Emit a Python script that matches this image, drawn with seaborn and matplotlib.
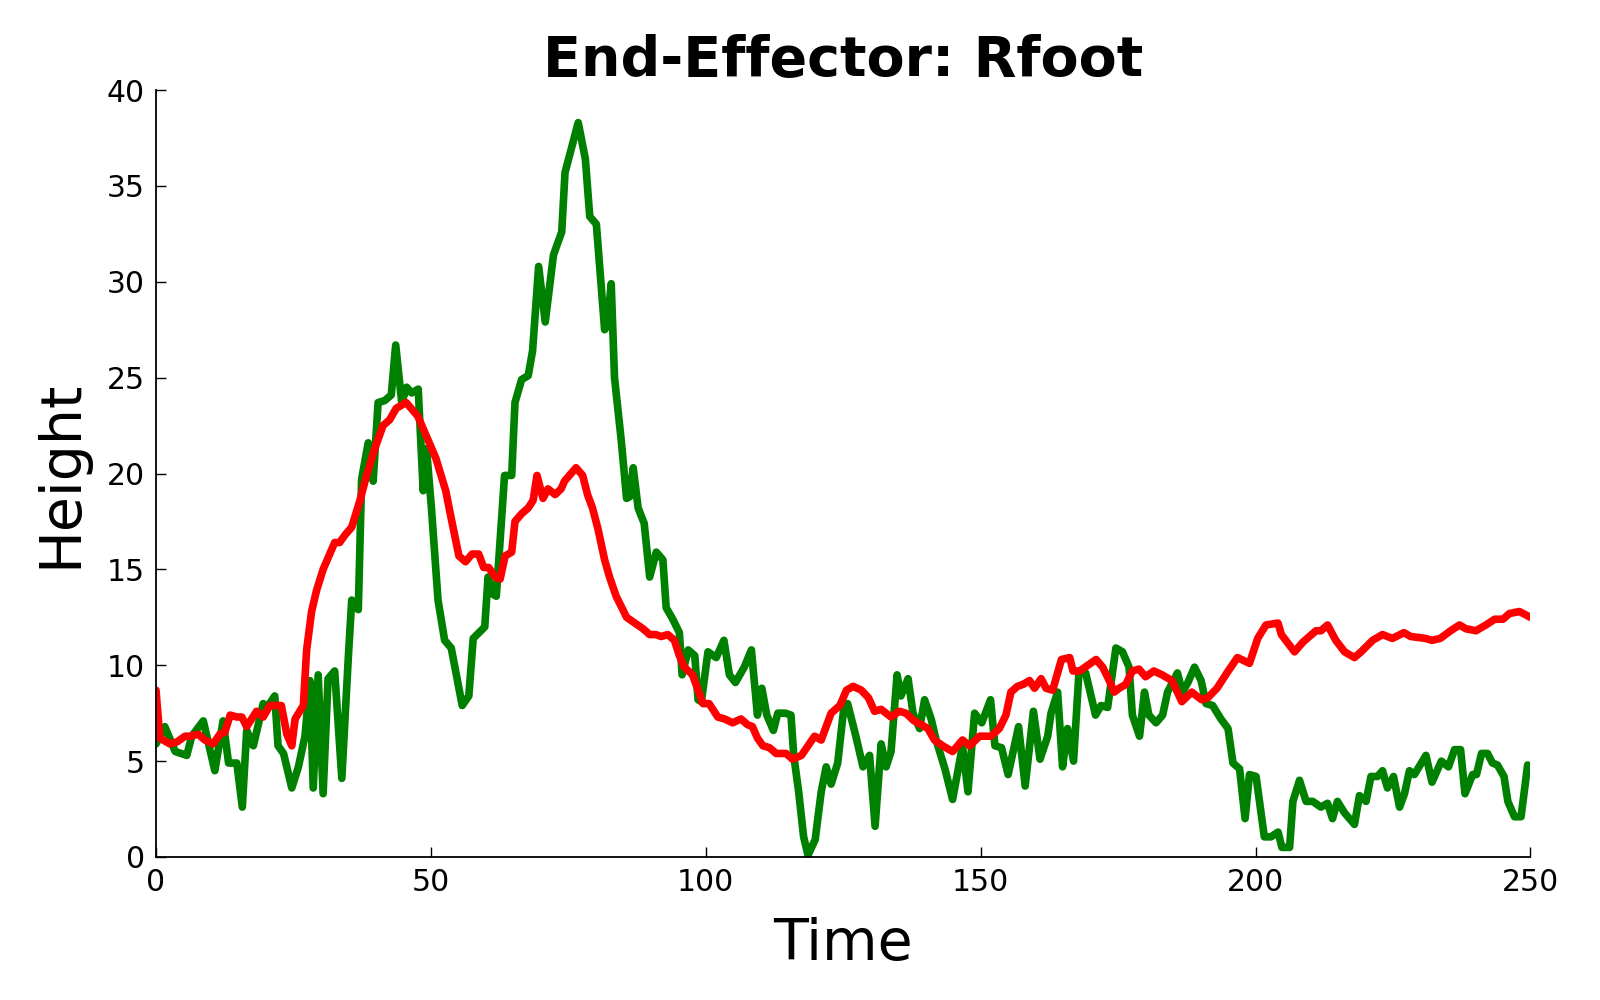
import matplotlib
matplotlib.use('Agg')
import matplotlib.pyplot as plt
import seaborn as sns

# datos
green_t = [0, 1.6, 3.5, 5.6, 6.5, 8.6, 10.7, 12.2, 13.2, 14.7, 15.7, 16.5, 17.7, 19.5, 20.2, 21.6, 22.2, 23.2, 24.7, 25.9,
           27.1, 28, 28.6, 29.5, 30.4, 31.3, 32.5, 33.8, 35, 35.6, 36.8, 37.4, 38.6, 39.5, 40.4, 41.6, 42.8, 43.6, 44.7, 45.6,
           46.5, 47.7, 48.6, 49.2, 50.1, 51.3, 52.5, 53.7, 55.7, 56.9, 57.7, 59.8, 60.4, 61.3, 61.9, 63.4, 64.7, 65.3, 66.5, 67.7,
           68.5, 69.6, 70.8, 72.3, 73.8, 74.4, 75.6, 76.8, 78.1, 78.9, 80.1, 81.0, 81.6, 82.1, 82.8, 83.4, 84.6, 85.6, 86.2, 86.8,
           87.7, 88.8, 89.8, 91.0, 92.2, 92.8, 94.0, 95.2, 95.7, 96.8, 98.0, 98.6, 99.2, 100.4, 101.9, 103.3, 104.3, 105.4, 107, 108.3,
           109.4, 110.2, 111.1, 112.3, 113.1, 114.5, 115.5, 116, 116.9, 117.8, 118.6, 119.9, 121.0, 121.9, 122.8, 124.0, 125.2, 125.8, 127.3, 128.6,
           129.8, 130.8, 131.9, 132.8, 133.7, 134.8, 135.5, 136.8, 137.7, 138.9, 139.8, 141.0, 141.9, 143.5, 144.9, 145.6, 146.7, 147.7, 148.9, 150.2,
           151.8, 152.6, 153.8, 155.0, 156.9, 158.1, 159.6, 160.8, 162.2, 162.8, 164.0, 164.9, 165.8, 166.9, 167.9, 169.1, 170.9, 171.9, 173.1, 174.6,
           175.8, 177, 177.6, 178.9, 179.8, 180.6, 181.9, 183.1, 184.0, 185.8, 186.7, 187.7, 188.9, 190.1, 191.0, 192.2, 193.7, 195.0, 195.9, 197.1,
           198.1, 198.9, 200.1, 201.6, 202.8, 204.1, 204.8, 206.2, 206.8, 208.0, 209.2, 210.4, 211.9, 213.1, 214.0, 214.9, 216.2, 217.1, 218.0, 218.9,
           220.1, 221.0, 222.2, 223.1, 224.0, 225.1, 226.2, 227.1, 228.0, 228.9, 231.0, 232.1, 233.8, 235.1, 236.2, 237.3, 238.1, 239.5, 240.2, 241.1,
           242.2, 243.1, 244.0, 245.2, 245.9, 247.1, 248.3, 249.5]
green_h = [5.9, 6.8, 5.5, 5.3, 6.3, 7.1, 4.5, 7.1, 4.9, 4.9, 2.6, 6.6, 5.8, 8.0, 7.8, 8.4, 5.8, 5.4, 3.6, 4.7,
           6.3, 9.2, 3.6, 9.5, 3.3, 9.3, 9.7, 4.1, 10.5, 13.4, 12.9, 19.7, 21.6, 19.6, 23.7, 23.8, 24.1, 26.7, 23.7, 24.5,
           24.2, 24.4, 19.1, 21.3, 18.2, 13.4, 11.3, 10.9, 7.9, 8.4, 11.4, 12.0, 14.6, 13.7, 13.6, 19.9, 19.9, 23.7, 24.9, 25.1,
           26.4, 30.8, 27.9, 31.4, 32.6, 35.7, 37.0, 38.3, 36.4, 33.4, 33.0, 29.7, 27.5, 27.7, 29.9, 25.0, 21.8, 18.7, 18.8, 20.3,
           18.2, 17.4, 14.6, 15.9, 15.5, 13.0, 12.4, 11.7, 9.5, 10.8, 10.5, 8.2, 8.1, 10.7, 10.4, 11.3, 9.5, 9.1, 9.9, 10.8,
           7.4, 8.8, 7.4, 6.6, 7.5, 7.5, 7.4, 5.3, 3.4, 1.05, 0.1, 0.9, 3.4, 4.7, 3.8, 4.9, 8.0, 8.0, 6.3, 4.7,
           5.3, 1.6, 5.9, 4.7, 5.5, 9.5, 8.4, 9.3, 7.5, 6.7, 8.2, 7.2, 6.1, 4.6, 3.0, 4.1, 5.8, 3.4, 7.5, 7.0,
           8.2, 5.8, 5.7, 4.3, 6.8, 3.7, 7.6, 5.1, 6.3, 7.5, 8.6, 4.7, 6.7, 5.0, 9.7, 9.6, 7.4, 7.9, 7.8, 10.9,
           10.7, 9.9, 7.4, 6.3, 8.6, 7.4, 7.0, 7.4, 8.6, 9.6, 8.6, 9.1, 9.9, 9.2, 8.0, 7.9, 7.2, 6.7, 4.9, 4.6,
           2.0, 4.3, 4.2, 1.05, 1.05, 1.3, 0.5, 0.5, 2.9, 4.0, 2.9, 2.9, 2.6, 2.8, 2.0, 2.9, 2.3, 2.0, 1.7, 3.2,
           2.9, 4.2, 4.2, 4.5, 3.6, 4.2, 2.6, 3.3, 4.5, 4.3, 5.3, 3.9, 5.0, 4.7, 5.6, 5.6, 3.3, 4.3, 4.3, 5.4,
           5.4, 4.9, 4.8, 4.2, 2.9, 2.1, 2.1, 4.8]

red_t = [0, 0.7, 2.5, 3.8, 5.3, 6.2, 7.7, 8.9, 10.4, 11.6, 12.5, 13.5, 14.7, 15.6, 16.5, 18.3, 19.5, 20.7, 21.6, 22.8,
         23.8, 24.7, 25.3, 26.8, 27.4, 28.3, 29.2, 30.4, 31.6, 32.5, 33.4, 34.4, 35.6, 37.1, 38.3, 39.8, 41.3, 42.5, 43.7, 45.5,
         47.6, 49.1, 50.9, 52.7, 53.6, 55.1, 56.3, 57.5, 58.7, 59.6, 60.5, 61.7, 62.6, 63.5, 64.7, 65.3, 66.5, 67.7, 68.6, 69.3,
         70.4, 71.3, 72.6, 73.7, 74.3, 76.4, 77.6, 78.5, 79.4, 80.4, 81.6, 82.5, 83.7, 85.6, 87.1, 88.6, 89.8, 90.9, 91.9, 93.1,
         94.3, 95.2, 96.1, 97.6, 98.6, 99.5, 100.6, 102.2, 103.4, 104.9, 106.4, 107.6, 108.5, 109.4, 110.4, 111.6, 112.8, 114.6, 115.8, 117.4,
         118.6, 119.8, 121, 121.9, 122.8, 124.4, 125.6, 126.8, 128.3, 129.6, 130.7, 131.9, 133.7, 135.2, 136.4, 137.9, 139.2, 140.4, 141.6, 143.1,
         144.9, 146.7, 148, 149.8, 151.9, 153.4, 154.6, 155.5, 156.7, 157.7, 158.9, 159.8, 161.0, 161.9, 163.1, 164.7, 166.2, 166.8, 168.0, 169.5,
         171.0, 172.2, 173.4, 174.3, 175.2, 176.4, 177.6, 178.8, 180.0, 181.5, 183.0, 184.8, 186.6, 188.4, 190.2, 191.3, 193.0, 194.8, 196.7, 198.9,
         200.4, 201.9, 204.1, 204.7, 207.1, 208.6, 209.8, 211.0, 211.9, 213.1, 214.6, 216.2, 218.0, 219.2, 221.3, 223.1, 224.9, 227.0, 228.2, 230.9,
         232.1, 233.6, 235.5, 237.1, 238.3, 240.1, 241.9, 243.5, 245.0, 246.2, 248.0, 250.0]
red_h = [8.7, 6.2, 5.9, 6.0, 6.3, 6.3, 6.4, 6.1, 5.9, 6.4, 6.5, 7.4, 7.3, 7.3, 6.8, 7.6, 7.3, 7.9, 7.9, 7.9,
         6.4, 5.8, 7.2, 7.9, 10.8, 12.8, 13.9, 15.0, 15.8, 16.4, 16.4, 16.8, 17.2, 18.6, 19.9, 21.3, 22.5, 22.8, 23.4, 23.7,
         23.0, 22.0, 20.8, 19.1, 17.8, 15.7, 15.4, 15.8, 15.8, 15.1, 15.1, 14.6, 14.5, 15.7, 15.9, 17.5, 17.9, 18.2, 18.6, 19.9,
         18.7, 19.2, 18.9, 19.2, 19.6, 20.3, 19.9, 18.9, 18.2, 17.1, 15.5, 14.6, 13.6, 12.5, 12.2, 11.9, 11.6, 11.6, 11.5, 11.6,
         11.3, 10.5, 9.9, 9.5, 8.7, 8.0, 8.0, 7.3, 7.2, 7.0, 7.2, 6.9, 6.8, 6.2, 5.8, 5.7, 5.4, 5.4, 5.1, 5.3,
         5.8, 6.3, 6.1, 6.8, 7.5, 7.9, 8.7, 8.9, 8.7, 8.3, 7.6, 7.7, 7.3, 7.6, 7.5, 7.1, 6.9, 6.7, 6.1, 5.8,
         5.5, 6.1, 5.8, 6.3, 6.3, 6.7, 7.4, 8.6, 8.9, 9.0, 9.2, 8.8, 9.3, 8.8, 8.7, 10.3, 10.4, 9.7, 9.7, 10.0,
         10.3, 9.9, 9.2, 8.6, 8.8, 9.0, 9.7, 9.8, 9.4, 9.7, 9.5, 9.2, 8.1, 8.6, 8.2, 8.3, 8.8, 9.6, 10.4, 10.1,
         11.4, 12.1, 12.2, 11.6, 10.7, 11.2, 11.5, 11.8, 11.8, 12.1, 11.3, 10.7, 10.4, 10.7, 11.3, 11.6, 11.4, 11.7, 11.5, 11.4,
         11.3, 11.4, 11.8, 12.1, 11.9, 11.8, 12.1, 12.4, 12.4, 12.7, 12.8, 12.5]

sns.set_style('ticks')
plt.rcParams['font.family'] = ['DejaVu Sans']
plt.rcParams['text.color'] = 'black'
plt.rcParams['axes.labelcolor'] = 'black'

fig = plt.figure(figsize=(16, 10), dpi=100)
ax = fig.add_axes([0.0975, 0.143, 0.859, 0.767])

sns.lineplot(x=green_t, y=green_h, color='g', linewidth=5.5, ax=ax, sort=False)
sns.lineplot(x=red_t, y=red_h, color='r', linewidth=5.5, ax=ax, sort=False)

ax.set_xlim(0, 250)
ax.set_ylim(0, 40)
ax.set_xticks([0, 50, 100, 150, 200, 250])
ax.set_yticks([0, 5, 10, 15, 20, 25, 30, 35, 40])
ax.tick_params(direction='in', length=7, width=1, labelsize=21.5, pad=8, colors='black')
sns.despine(ax=ax)
for s in ['left', 'bottom']:
    ax.spines[s].set_linewidth(1.3)
    ax.spines[s].set_color('black')

ax.set_title('End-Effector: Rfoot', fontsize=40, fontweight='bold', pad=10, color='black')
ax.set_xlabel('Time', fontsize=41, labelpad=14)
ax.set_ylabel('Height', fontsize=41, labelpad=13)

fig.savefig('out.png', dpi=100)
